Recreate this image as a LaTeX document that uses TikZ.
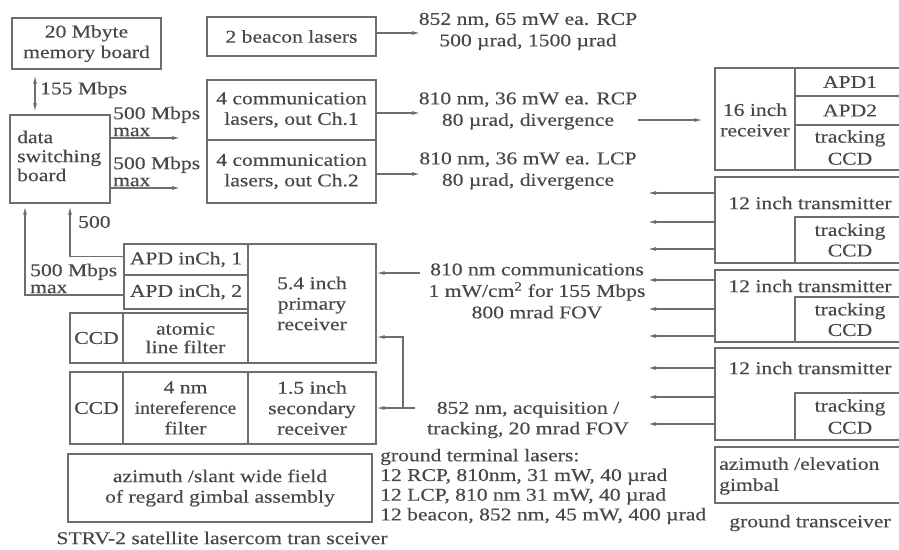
\documentclass[tikz,border=0pt]{standalone}
\usepackage{fontspec}
\usepackage{graphicx}
\setmainfont{Liberation Serif}[FakeStretch=1.2,FakeBold=0.3]
\usetikzlibrary{arrows.meta}
\definecolor{lncol}{RGB}{110,110,110}
\definecolor{txcol}{RGB}{72,72,72}
\begin{document}
\begin{tikzpicture}[x=1pt,y=-1pt,
  every node/.style={font=\fontsize{18}{20.5}\selectfont, text=txcol},
  box/.style={draw=lncol, line width=1.3pt, inner sep=0pt, align=center},
  corners/.style n args={4}{at={({(#1+#3)/2},{(#2+#4)/2})},
     minimum width={(#3-#1)*1pt}, minimum height={(#4-#2)*1pt}},
  lbl/.style={inner sep=0pt, align=center},
  wire/.style={draw=lncol, line width=1.1pt},
  arr/.style={wire, -{Latex[length=8pt,width=4pt]}},
  dbl/.style={wire, {Latex[length=8pt,width=4pt]}-{Latex[length=8pt,width=4pt]}}]
\useasboundingbox (0,0) rectangle (899,549);
\fill[white] (0,0) rectangle (899,549);
\clip (0,0) rectangle (899,549);

% ---------- satellite side ----------
\node[box, corners={12}{18}{161}{69}] (mem) {20 Mbyte\\memory board};
\node[box, corners={207}{17}{376}{56}] (beacon) {2 beacon lasers};
\node[box, corners={207}{80}{376}{140}] (ch1) {4 communication\\lasers, out Ch.1};
\node[box, corners={207}{140}{376}{203}] (ch2) {4 communication\\lasers, out Ch.2};
\node[box, corners={10}{115}{110}{203}] (dsb) {};
\node[lbl, align=left, anchor=west, font=\fontsize{18}{19}\selectfont] (dsbt) at (17,156) {data\\switching\\board};

\node[box, corners={124}{244}{248}{275}] (apd1) {APD inCh, 1};
\node[box, corners={124}{275}{248}{309}] (apd2) {APD inCh, 2};
\node[box, corners={248}{244}{376}{363}] (prim) {5.4 inch\\primary\\receiver};
\node[box, corners={70}{313}{123}{363}] (ccd1) {CCD};
\node[box, corners={123}{313}{248}{363}, font=\fontsize{18}{18.5}\selectfont] (alf) {atomic\\line filter};
\node[box, corners={70}{372}{123}{444}] (ccd2) {CCD};
\node[box, corners={123}{372}{248}{444}] (iff) {4 nm\\\scalebox{0.9}[1]{intereference}\\filter};
\node[box, corners={248}{372}{376}{444}] (sec) {1.5 inch\\secondary\\receiver};
\node[box, corners={68}{454}{372}{522}] (gim) {azimuth /slant wide field\\of regard gimbal assembly};
\node[lbl] (title) at (222,538) {STRV-2 satellite lasercom tran sceiver};

% ---------- labels ----------
\node[lbl, anchor=west] (l155) at (40,90) {155 Mbps};
\node[lbl, anchor=west, align=left, font=\fontsize{18}{17}\selectfont] (l500a) at (113,121.5) {500 Mbps\\max};
\node[lbl, anchor=west, align=left, font=\fontsize{18}{17}\selectfont] (l500b) at (113,171.5) {500 Mbps\\max};
\node[lbl, anchor=west] (l500c) at (78,222) {500};
\node[lbl, anchor=west, align=left, font=\fontsize{18}{17}\selectfont] (l500d) at (30,278.5) {500 Mbps\\max};

\node[lbl, font=\fontsize{18}{21.5}\selectfont] (tb) at (528,31.5) {852 nm, 65 mW ea. RCP\\500 µrad, 1500 µrad};
\node[lbl, font=\fontsize{18}{21.5}\selectfont] (t1) at (528,111) {810 nm, 36 mW ea. RCP\\80 µrad, divergence};
\node[lbl, font=\fontsize{18}{21.5}\selectfont] (t2) at (528,171) {810 nm, 36 mW ea. LCP\\80 µrad, divergence};
\node[lbl, font=\fontsize{18}{21.5}\selectfont] (tcomm) at (537,291) {810 nm communications\\1 mW/cm\textsuperscript{2} for 155 Mbps\\800 mrad FOV};
\node[lbl] (tacq) at (528,420) {852 nm, acquisition /\\tracking, 20 mrad FOV};
\node[lbl, anchor=west, align=left, font=\fontsize{18}{19.7}\selectfont] (tgnd) at (380,486.5) {ground terminal lasers:\\12 RCP, 810nm, 31 mW, 40 µrad\\12 LCP, 810 nm 31 mW, 40 µrad\\12 beacon, 852 nm, 45 mW, 400 µrad};

% ---------- ground side ----------
\node[box, corners={715}{68}{905}{170}] (r16) {};
\node[lbl] (r16t) at (755,120) {16 inch\\receiver};
\node[box, corners={795}{68}{905}{96}] (apdA) {APD1};
\node[box, corners={795}{96}{905}{125}] (apdB) {APD2};
\node[box, corners={795}{125}{905}{170}, font=\fontsize{18}{22}\selectfont] (tc0) {tracking\\CCD};

\node[box, corners={715}{177}{905}{263}] (tx1) {};
\node[lbl] (tx1t) at (810,203) {12 inch transmitter};
\node[box, corners={795}{217}{905}{263}] (tc1) {tracking\\CCD};

\node[box, corners={715}{270}{905}{342}] (tx2) {};
\node[lbl] (tx2t) at (810,286) {12 inch transmitter};
\node[box, corners={795}{297}{905}{342}] (tc2) {tracking\\CCD};

\node[box, corners={715}{348}{905}{440}] (tx3) {};
\node[lbl] (tx3t) at (810,368) {12 inch transmitter};
\node[box, corners={795}{393}{905}{440}, font=\fontsize{18}{22}\selectfont] (tc3) {tracking\\CCD};

\node[box, corners={715}{447}{905}{503}] (gim2) {};
\node[lbl, anchor=west, align=left, font=\fontsize{18}{21}\selectfont] (gim2t) at (719,476) {azimuth /elevation\\gimbal};
\node[lbl] (gtr) at (810,523) {ground transceiver};

% ---------- connectors ----------
\coordinate (x35) at (35,0);
\draw[dbl, shorten <=6pt, shorten >=3pt] (mem.south -| x35) -- (dsb.north -| x35);

\coordinate (a1) at (180,138);
\coordinate (a2) at (180,188);
\draw[arr] (dsb.east |- a1) -- (a1);
\draw[arr] (dsb.east |- a2) -- (a2);

\coordinate (b1) at (420,33);
\coordinate (b2) at (420,113);
\coordinate (b3) at (420,174);
\draw[arr] (beacon.east |- b1) -- (b1);
\draw[arr] (ch1.east |- b2) -- (b2);
\draw[arr] (ch2.east |- b3) -- (b3);

\coordinate (c1) at (638,120);
\draw[arr, shorten >=12pt] (c1) -- (r16.west |- c1);

\foreach \yy in {193,222,249} {\coordinate (p) at (648,\yy); \draw[arr] (tx1.west |- p) -- (p);}
\foreach \yy in {280,309,336} {\coordinate (p) at (648,\yy); \draw[arr] (tx2.west |- p) -- (p);}
\foreach \yy in {368,397,424} {\coordinate (p) at (648,\yy); \draw[arr] (tx3.west |- p) -- (p);}

\coordinate (d1) at (420,273);
\draw[arr] (d1) -- (prim.east |- d1);

\coordinate (e1) at (415,408);
\coordinate (e2) at (403,408);
\coordinate (e3) at (377,337);
\draw[arr] (e1) -- (sec.east |- e1);
\draw[arr] (e2) |- (prim.east |- e3);

\coordinate (f1) at (70,0);
\coordinate (f2) at (25,0);
\draw[arr, shorten >=3pt] ([yshift=3pt]apd1.west) -| (dsb.south -| f1);
\draw[arr, shorten >=3pt] ([yshift=-3pt]apd2.west) -| (dsb.south -| f2);
\end{tikzpicture}
\end{document}
